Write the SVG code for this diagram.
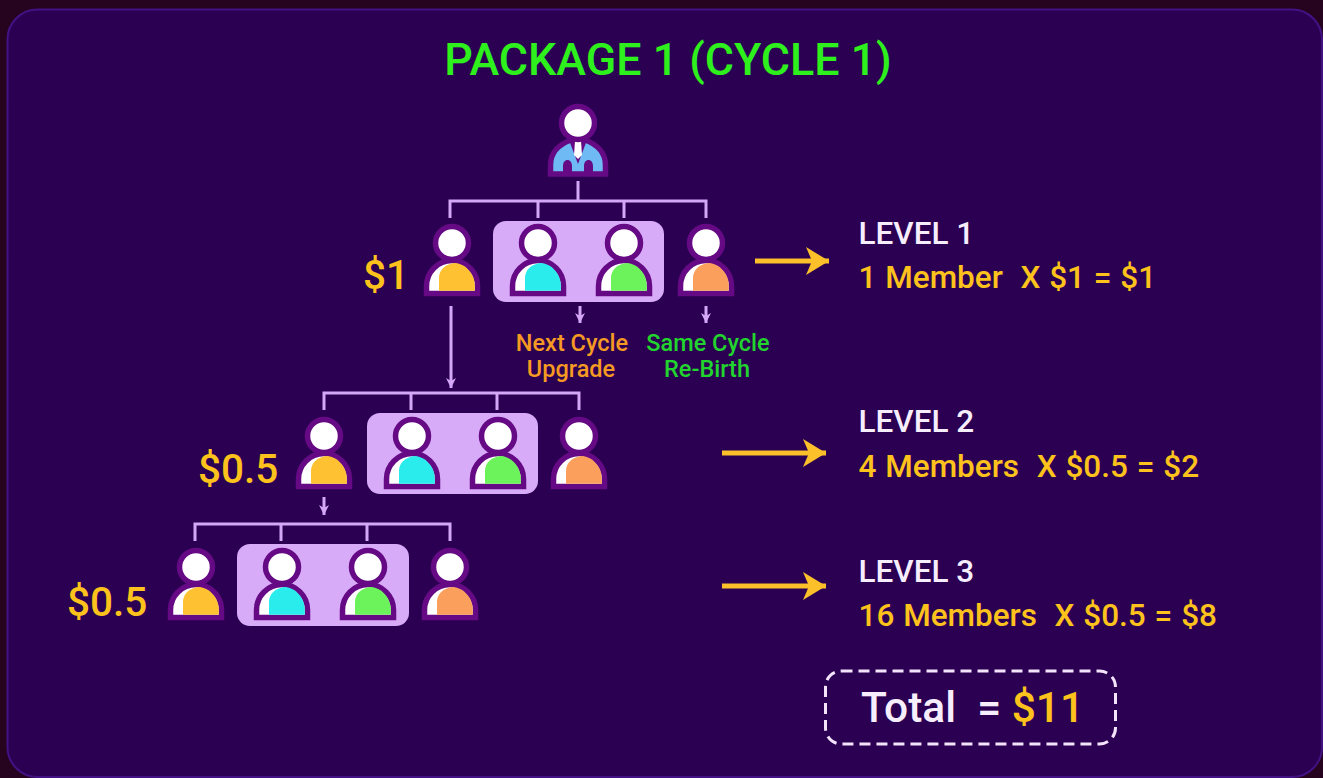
<svg xmlns="http://www.w3.org/2000/svg" width="1323" height="778" viewBox="0 0 1323 778">
<style>
text{font-family:Roboto,"Liberation Sans",sans-serif;font-weight:500}
.w{fill:#f6eefc;font-size:31.5px}
.y{fill:#fdc31c;font-size:31.5px;word-spacing:1px}
.v{fill:#fdc31c;font-size:40.5px}
.o{fill:#f59a23;font-size:23.5px}
.g{fill:#22d42e;font-size:23.5px}
.c{fill:none;stroke:#d5a8f7;stroke-width:3}
.a{fill:none;stroke:#fcc02a;stroke-width:5}
.p{fill:#d8abf9}
.ol{stroke:#650a84;stroke-width:5.500}
</style>
<defs>
<g id="person-base">
<path class="ol" d="M-25.500 50.500V43A25.500 25.500 0 0 1 25.500 43V50.500Z" fill="#fff"/>
<circle class="ol" cx="0" cy="0" r="16.500" fill="#fff"/>
</g>
<path id="dome" d="M-13 47.800V35C-13 27-7 21 3 20C14 21 22.800 31 22.800 43V47.800Z"/>
<g id="py"><use href="#person-base"/><use href="#dome" fill="#fdc131"/></g>
<g id="pc"><use href="#person-base"/><use href="#dome" fill="#2becec"/></g>
<g id="pg"><use href="#person-base"/><use href="#dome" fill="#6cf25a"/></g>
<g id="po"><use href="#person-base"/><use href="#dome" fill="#fb9f5c"/></g>
<marker id="ah" markerUnits="userSpaceOnUse" markerWidth="12" markerHeight="10" refX="10" refY="5" orient="auto"><path d="M0 0L10 5L0 10L3 5Z" fill="#d5a8f7"/></marker>
<marker id="ay" markerUnits="userSpaceOnUse" markerWidth="26" markerHeight="30" refX="24" refY="15" orient="auto"><path d="M1 1L24 15L1 29L7 15Z" fill="#fcc02a"/></marker>
</defs>

<rect width="1323" height="778" fill="#26041f"/>
<rect x="7.500" y="9.500" width="1314.500" height="767.500" rx="30" fill="#2b0052" stroke="#421285" stroke-width="2"/>

<text id="title" x="668" y="75" text-anchor="middle" font-size="44.800" fill="#2ef01c">PACKAGE 1 (CYCLE 1)</text>

<g id="connectors">
<path class="c" d="M578 181V201M450 218V201H706V218M538 201V218M624 201V218"/>
<path class="c" d="M324 410V393H579V410M411 393V410M497 393V410"/>
<path class="c" d="M195 541V524H450V541M281 524V541M367 524V541"/>
<path class="c" d="M451 306V388" marker-end="url(#ah)"/>
<path class="c" d="M580 306V323" marker-end="url(#ah)"/>
<path class="c" d="M706 306V323" marker-end="url(#ah)"/>
<path class="c" d="M324 497V515" marker-end="url(#ah)"/>
<path class="a" d="M755 261H829" marker-end="url(#ay)"/>
<path class="a" d="M722 453H826" marker-end="url(#ay)"/>
<path class="a" d="M722 586H826" marker-end="url(#ay)"/>
</g>

<g id="root">
<path d="M550.500 174V165C550.500 152 560 144 571 140H585C596 144 605.500 152 605.500 165V174Z" fill="#6fb9f5" stroke="#650a84" stroke-width="5.500"/>
<path d="M563 172V166C563 158 572 158 572 166V172ZM584 172V166C584 158 593 158 593 166V172Z" fill="#650a84"/>
<path d="M569 140L578 164L587 140Z" fill="#650a84"/>
<path d="M575 141H581L582 155L578 159L574 155Z" fill="#fff"/>
<circle class="ol" cx="578" cy="123" r="16.500" fill="#fff"/>
</g>

<g id="panel-1"><rect class="p" x="493" y="221" width="171" height="81" rx="13"/></g>
<g id="panel-2"><rect class="p" x="367" y="413" width="171" height="81" rx="13"/></g>
<g id="panel-3"><rect class="p" x="237" y="544" width="172" height="82" rx="13"/></g>

<g id="l1-a"><use href="#py" x="452" y="243"/></g>
<g id="l1-b"><use href="#pc" x="538" y="243"/></g>
<g id="l1-c"><use href="#pg" x="624" y="243"/></g>
<g id="l1-d"><use href="#po" x="706" y="243"/></g>
<g id="l2-a"><use href="#py" x="324" y="436"/></g>
<g id="l2-b"><use href="#pc" x="412" y="436"/></g>
<g id="l2-c"><use href="#pg" x="498" y="436"/></g>
<g id="l2-d"><use href="#po" x="579" y="436"/></g>
<g id="l3-a"><use href="#py" x="196" y="567"/></g>
<g id="l3-b"><use href="#pc" x="282" y="567"/></g>
<g id="l3-c"><use href="#pg" x="368" y="567"/></g>
<g id="l3-d"><use href="#po" x="450" y="567"/></g>

<text class="v" x="363" y="289">$1</text>
<text class="v" x="198" y="483">$0.5</text>
<text class="v" x="67" y="616">$0.5</text>

<g text-anchor="middle">
<text class="o" x="572" y="351">Next Cycle</text>
<text class="o" x="571" y="377">Upgrade</text>
<text class="g" x="708" y="351">Same Cycle</text>
<text class="g" x="707" y="377">Re-Birth</text>
</g>

<text class="w" x="858.500" y="244">LEVEL 1</text>
<text class="y" x="858.500" y="288" xml:space="preserve">1 Member  X $1 = $1</text>
<text class="w" x="858.500" y="432">LEVEL 2</text>
<text class="y" x="858.500" y="477" xml:space="preserve">4 Members  X $0.5 = $2</text>
<text class="w" x="858.500" y="582">LEVEL 3</text>
<text class="y" x="858.500" y="626" xml:space="preserve">16 Members  X $0.5 = $8</text>

<g id="total">
<rect x="825.500" y="671" width="290" height="73" rx="16" fill="none" stroke="#f3e4fb" stroke-width="3" stroke-dasharray="11 6"/>
<text x="861" y="722" font-size="42.500" fill="#f6eefc" xml:space="preserve">Total  = <tspan fill="#fdc31c">$11</tspan></text>
</g>
</svg>
